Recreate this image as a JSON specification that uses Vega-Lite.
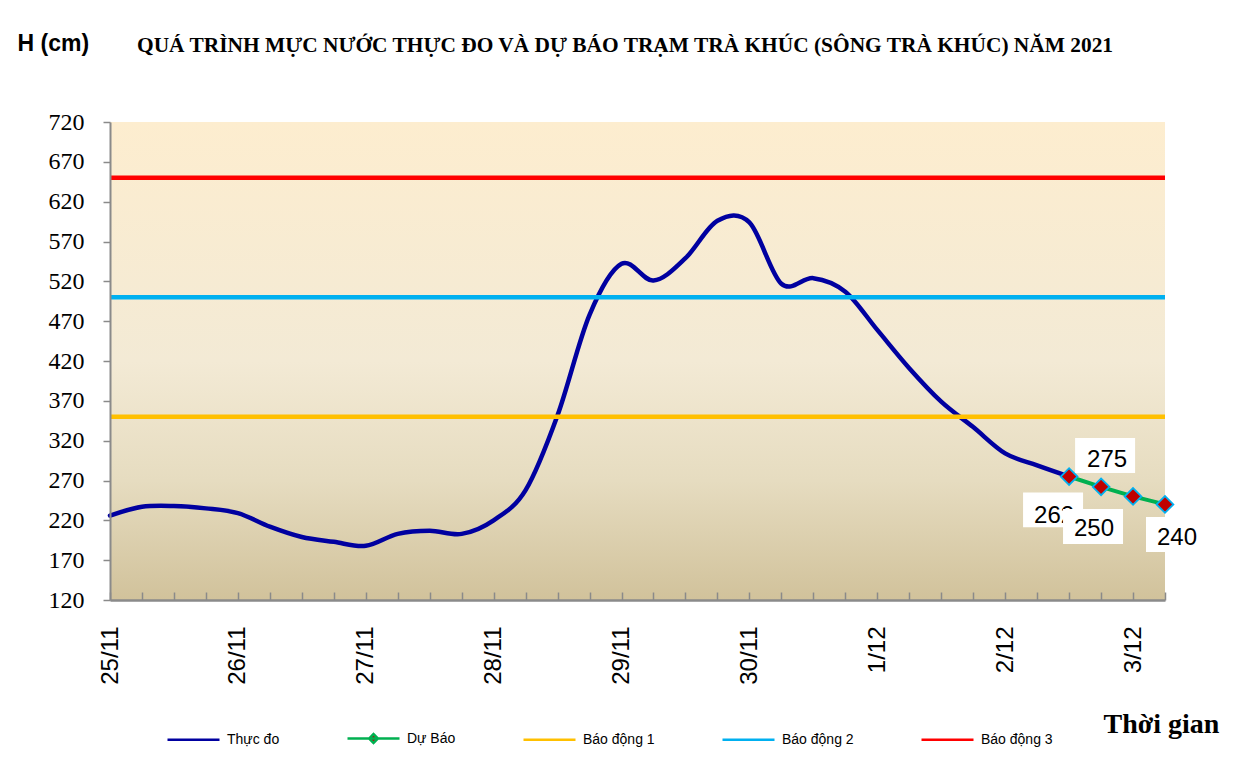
{
  "$schema": "https://vega.github.io/schema/vega-lite/v6.json",
  "width": 1055,
  "height": 478,
  "autosize": "none",
  "padding": {"left": 110, "top": 122, "right": 72, "bottom": 171},
  "background": "white",
  "title": {
    "text": "QUÁ TRÌNH MỰC NƯỚC THỰC ĐO VÀ DỰ BÁO TRẠM TRÀ KHÚC (SÔNG TRÀ KHÚC) NĂM  2021",
    "font": "Liberation Serif",
    "fontSize": 21.4,
    "fontWeight": "bold",
    "color": "black",
    "anchor": "start",
    "frame": "group",
    "dx": 27,
    "baseline": "middle",
    "offset": -35
  },
  "data": {
    "values": [
      {"time": "2021-11-25T00:00:00Z", "series": "Thực đo", "value": 226},
      {"time": "2021-11-25T06:00:00Z", "series": "Thực đo", "value": 237},
      {"time": "2021-11-25T12:00:00Z", "series": "Thực đo", "value": 238},
      {"time": "2021-11-25T18:00:00Z", "series": "Thực đo", "value": 235},
      {"time": "2021-11-26T00:00:00Z", "series": "Thực đo", "value": 229},
      {"time": "2021-11-26T06:00:00Z", "series": "Thực đo", "value": 212},
      {"time": "2021-11-26T12:00:00Z", "series": "Thực đo", "value": 199},
      {"time": "2021-11-26T18:00:00Z", "series": "Thực đo", "value": 193},
      {"time": "2021-11-27T00:00:00Z", "series": "Thực đo", "value": 188},
      {"time": "2021-11-27T06:00:00Z", "series": "Thực đo", "value": 203},
      {"time": "2021-11-27T12:00:00Z", "series": "Thực đo", "value": 207},
      {"time": "2021-11-27T18:00:00Z", "series": "Thực đo", "value": 203},
      {"time": "2021-11-28T00:00:00Z", "series": "Thực đo", "value": 220},
      {"time": "2021-11-28T06:00:00Z", "series": "Thực đo", "value": 258},
      {"time": "2021-11-28T12:00:00Z", "series": "Thực đo", "value": 352},
      {"time": "2021-11-28T18:00:00Z", "series": "Thực đo", "value": 478},
      {"time": "2021-11-29T00:00:00Z", "series": "Thực đo", "value": 542},
      {"time": "2021-11-29T06:00:00Z", "series": "Thực đo", "value": 521},
      {"time": "2021-11-29T12:00:00Z", "series": "Thực đo", "value": 549},
      {"time": "2021-11-29T18:00:00Z", "series": "Thực đo", "value": 596},
      {"time": "2021-11-30T00:00:00Z", "series": "Thực đo", "value": 594},
      {"time": "2021-11-30T06:00:00Z", "series": "Thực đo", "value": 517},
      {"time": "2021-11-30T12:00:00Z", "series": "Thực đo", "value": 524},
      {"time": "2021-11-30T18:00:00Z", "series": "Thực đo", "value": 507},
      {"time": "2021-12-01T00:00:00Z", "series": "Thực đo", "value": 459},
      {"time": "2021-12-01T06:00:00Z", "series": "Thực đo", "value": 411},
      {"time": "2021-12-01T12:00:00Z", "series": "Thực đo", "value": 369},
      {"time": "2021-12-01T18:00:00Z", "series": "Thực đo", "value": 337},
      {"time": "2021-12-02T00:00:00Z", "series": "Thực đo", "value": 304},
      {"time": "2021-12-02T06:00:00Z", "series": "Thực đo", "value": 289},
      {"time": "2021-12-02T12:00:00Z", "series": "Thực đo", "value": 275},
      {"time": "2021-12-02T12:00:00Z", "series": "Dự Báo", "value": 275},
      {"time": "2021-12-02T18:00:00Z", "series": "Dự Báo", "value": 262},
      {"time": "2021-12-03T00:00:00Z", "series": "Dự Báo", "value": 250},
      {"time": "2021-12-03T06:00:00Z", "series": "Dự Báo", "value": 240},
      {"time": "2021-11-25T00:00:00Z", "series": "Báo động 1", "value": 350},
      {"time": "2021-12-03T06:00:00Z", "series": "Báo động 1", "value": 350},
      {"time": "2021-11-25T00:00:00Z", "series": "Báo động 2", "value": 500},
      {"time": "2021-12-03T06:00:00Z", "series": "Báo động 2", "value": 500},
      {"time": "2021-11-25T00:00:00Z", "series": "Báo động 3", "value": 650},
      {"time": "2021-12-03T06:00:00Z", "series": "Báo động 3", "value": 650}
    ]
  },
  "encoding": {
    "x": {
      "field": "time",
      "type": "temporal",
      "scale": {
        "type": "utc",
        "domain": [1637798400000, 1638511200000],
        "nice": false
      },
      "axis": {
        "zindex": 1,
        "title": "Thời gian",
        "titleFont": "Liberation Serif",
        "titleFontSize": 28,
        "titleFontWeight": "bold",
        "titleColor": "black",
        "titleX": 993,
        "titleY": 124,
        "titleAlign": "left",
        "titleBaseline": "middle",
        "values": [1637798400000, 1637820000000, 1637841600000, 1637863200000, 1637884800000, 1637906400000, 1637928000000, 1637949600000, 1637971200000, 1637992800000, 1638014400000, 1638036000000, 1638057600000, 1638079200000, 1638100800000, 1638122400000, 1638144000000, 1638165600000, 1638187200000, 1638208800000, 1638230400000, 1638252000000, 1638273600000, 1638295200000, 1638316800000, 1638338400000, 1638360000000, 1638381600000, 1638403200000, 1638424800000, 1638446400000, 1638468000000, 1638489600000, 1638511200000],
        "labelExpr": "utchours(datum.value) == 0 ? utcFormat(datum.value, '%-d/%-m') : ''",
        "labelAngle": 270,
        "labelAlign": "right",
        "labelBaseline": "middle",
        "labelFont": "Liberation Sans",
        "labelFontSize": 24,
        "labelColor": "black",
        "labelPadding": 34,
        "labelOverlap": false,
        "labelFlush": false,
        "labelBound": false,
        "tickSize": -8,
        "tickColor": "#8a8a8a",
        "tickWidth": 1.5,
        "domainColor": "#8a8a8a",
        "domainWidth": 2.5,
        "grid": false
      }
    },
    "y": {
      "field": "value",
      "type": "quantitative",
      "scale": {"domain": [120, 720], "nice": false, "zero": false},
      "axis": {
        "zindex": 1,
        "title": "H (cm)",
        "titleFont": "Liberation Sans",
        "titleFontSize": 23,
        "titleFontWeight": "bold",
        "titleColor": "black",
        "titleAngle": 0,
        "titleX": -93,
        "titleY": -79,
        "titleAlign": "left",
        "titleBaseline": "middle",
        "values": [120, 170, 220, 270, 320, 370, 420, 470, 520, 570, 620, 670, 720],
        "labelFont": "Liberation Serif",
        "labelFontSize": 24,
        "labelColor": "black",
        "labelPadding": 19,
        "tickSize": 7,
        "tickColor": "#8a8a8a",
        "tickWidth": 1.5,
        "domainColor": "#8a8a8a",
        "domainWidth": 2,
        "grid": false
      }
    }
  },
  "layer": [
    {
      "mark": {
        "type": "rect",
        "color": {
          "gradient": "linear",
          "x1": 0, "y1": 0, "x2": 0, "y2": 1,
          "stops": [
            {"offset": 0, "color": "#FDEDCF"},
            {"offset": 0.5, "color": "#F3EAD5"},
            {"offset": 0.75, "color": "#E6DCC0"},
            {"offset": 1, "color": "#D1C29B"}
          ]
        }
      },
      "encoding": {
        "x": {"datum": 1637798400000, "type": "temporal"},
        "x2": {"datum": 1638511200000},
        "y": {"datum": 720, "type": "quantitative"},
        "y2": {"datum": 120}
      }
    },
    {
      "transform": [{"filter": "datum.series === 'Thực đo'"}],
      "mark": {"type": "line", "interpolate": "cardinal", "strokeWidth": 4.5, "strokeCap": "round", "strokeJoin": "round"},
      "encoding": {
        "color": {
          "field": "series",
          "type": "nominal",
          "scale": {
            "domain": ["Thực đo", "Dự Báo", "Báo động 1", "Báo động 2", "Báo động 3"],
            "range": ["#0000A0", "#00B050", "#FFC000", "#00B0F0", "#FF0000"]
          },
          "legend": {
            "orient": "none",
            "legendX": 56,
            "legendY": 589,
            "direction": "horizontal",
            "title": null,
            "labelFont": "Liberation Sans",
            "labelFontSize": 14,
            "labelColor": "black",
            "labelOffset": 6,
            "columnPadding": 62,
            "symbolSize": 2704,
            "symbolStrokeWidth": 2.5,
            "symbolType": "stroke",
            "encode": {
              "symbols": {
                "update": {
                  "shape": {"signal": "datum.value === 'Dự Báo' ? 'M-1,0L1,0M-0.17,0L0,-0.17L0.17,0L0,0.17Z' : 'stroke'"},
                  "fill": {"signal": "datum.value === 'Dự Báo' ? '#C00000' : 'transparent'"}
                }
              }
            }
          }
        }
      }
    },
    {
      "transform": [{"filter": "datum.series === 'Dự Báo'"}],
      "mark": {"type": "line", "strokeWidth": 4, "strokeCap": "round", "strokeJoin": "round"},
      "encoding": {"color": {"field": "series", "type": "nominal"}}
    },
    {
      "transform": [{"filter": "indexof(datum.series, 'Báo động') === 0"}],
      "mark": {"type": "line", "strokeWidth": 4.5},
      "encoding": {"color": {"field": "series", "type": "nominal"}}
    },
    {
      "transform": [{"filter": "datum.series === 'Dự Báo'"}],
      "mark": {"type": "point", "shape": "diamond", "filled": true, "fill": "#C00000", "stroke": "#00B0F0", "strokeWidth": 1.8, "size": 280, "opacity": 1}
    },
    {
      "transform": [{"filter": "datum.series === 'Dự Báo' && datum.value === 275"}],
      "mark": {"type": "point", "shape": "M-1,-0.583L1,-0.583L1,0.583L-1,0.583Z", "size": 3600, "filled": true, "fill": "white", "strokeWidth": 0, "opacity": 1, "xOffset": 36, "yOffset": -21}
    },
    {
      "transform": [{"filter": "datum.series === 'Dự Báo' && datum.value === 275"}],
      "mark": {"type": "text", "font": "Liberation Sans", "fontSize": 24, "color": "black", "align": "center", "baseline": "middle", "dx": 38, "dy": -17},
      "encoding": {"text": {"field": "value", "type": "quantitative"}}
    },
    {
      "transform": [{"filter": "datum.series === 'Dự Báo' && datum.value === 240"}],
      "mark": {"type": "point", "shape": "M-1,-0.583L1,-0.583L1,0.583L-1,0.583Z", "size": 3600, "filled": true, "fill": "white", "strokeWidth": 0, "opacity": 1, "xOffset": 11, "yOffset": 30}
    },
    {
      "transform": [{"filter": "datum.series === 'Dự Báo' && datum.value === 240"}],
      "mark": {"type": "text", "font": "Liberation Sans", "fontSize": 24, "color": "black", "align": "center", "baseline": "middle", "dx": 12, "dy": 34},
      "encoding": {"text": {"field": "value", "type": "quantitative"}}
    },
    {
      "transform": [{"filter": "datum.series === 'Dự Báo' && datum.value === 262"}],
      "mark": {"type": "point", "shape": "M-1,-0.583L1,-0.583L1,0.583L-1,0.583Z", "size": 3600, "filled": true, "fill": "white", "strokeWidth": 0, "opacity": 1, "xOffset": -48, "yOffset": 23}
    },
    {
      "transform": [{"filter": "datum.series === 'Dự Báo' && datum.value === 262"}],
      "mark": {"type": "text", "font": "Liberation Sans", "fontSize": 24, "color": "black", "align": "center", "baseline": "middle", "dx": -47, "dy": 29},
      "encoding": {"text": {"field": "value", "type": "quantitative"}}
    },
    {
      "transform": [{"filter": "datum.series === 'Dự Báo' && datum.value === 250"}],
      "mark": {"type": "point", "shape": "M-1,-0.583L1,-0.583L1,0.583L-1,0.583Z", "size": 3600, "filled": true, "fill": "white", "strokeWidth": 0, "opacity": 1, "xOffset": -40, "yOffset": 30}
    },
    {
      "transform": [{"filter": "datum.series === 'Dự Báo' && datum.value === 250"}],
      "mark": {"type": "text", "font": "Liberation Sans", "fontSize": 24, "color": "black", "align": "center", "baseline": "middle", "dx": -39, "dy": 33},
      "encoding": {"text": {"field": "value", "type": "quantitative"}}
    }
  ],
  "config": {
    "view": {
      "stroke": null
    }
  }
}
